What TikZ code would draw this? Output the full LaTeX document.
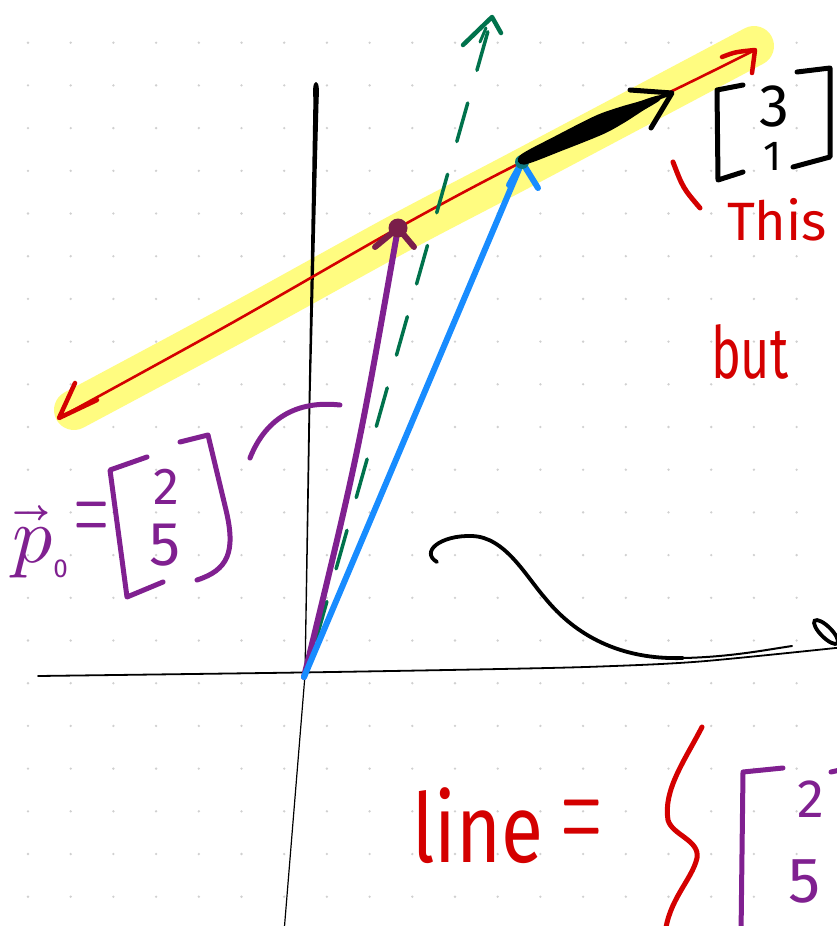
\documentclass[tikz,border=0pt]{standalone}
\usepackage{fontspec}
\usepackage{unicode-math}
\setmainfont{Fira Sans}
\setmathfont{Latin Modern Math}
\usepackage{graphicx}
\definecolor{hlyellow}{RGB}{255,252,128}
\definecolor{penred}{RGB}{212,0,0}
\definecolor{penpurple}{RGB}{128,32,144}
\definecolor{penmaroon}{RGB}{122,30,74}
\definecolor{penblue}{RGB}{24,140,255}
\definecolor{penteal}{RGB}{14,120,128}
\definecolor{pengreen}{RGB}{0,114,76}
\definecolor{dotgray}{RGB}{208,208,208}
\tikzset{
  pen/.style={line cap=round, line join=round},
  redpen/.style={pen, draw=penred, line width=4.5},
  purplepen/.style={pen, draw=penpurple, line width=5},
  blackpen/.style={pen, draw=black, line width=5},
  hand/.style={inner sep=0pt, outer sep=0pt},
}
\newcommand{\fsz}[1]{\fontsize{#1}{#1}\selectfont}
\begin{document}
\begin{tikzpicture}[x=1pt,y=-1pt]
\useasboundingbox (0,0) rectangle (837,926);
\clip (0,0) rectangle (837,926);
\fill[white] (0,0) rectangle (837,926);
% dot grid
\foreach \i in {0,...,19} \foreach \j in {1,...,21}
  \fill[dotgray] ({28+42.7*\i},{42.7*\j}) circle (1.3);
% key points
\coordinate (O) at (304,677);
\coordinate (P0) at (398,228);
\coordinate (Q) at (522,162);
\coordinate (T) at (672,93);
\coordinate (G) at (492,17);
\coordinate (Gs) at (316,640);
\coordinate (Lend) at (59,418);
\coordinate (Rend) at (755,50);
% highlighter band
\draw[hlyellow, line width=40, line cap=round, line join=round]
  plot[smooth] coordinates {(74,410) (240,321) (398,234) (520,170) (754,46)};
% axes
\fill[black] (316,82) .. controls (319.5,82) and (319,92) .. (318.6,100)
  -- (310.5,400) -- (305.6,675) -- (284.8,930) -- (283.6,930)
  -- (304.4,675) -- (308.6,400) -- (313.4,100)
  .. controls (313,92) and (312.5,82) .. (316,82) -- cycle;
\draw[black, line width=1.8, line cap=round]
  plot[smooth] coordinates {(38,676) (300,672.5) (500,669) (600,666.5) (700,661.5) (845,647)};
% red line with two arrowheads
\draw[penred, line width=2.6, line cap=round]
  plot[smooth] coordinates {(Lend) (230,324) (398,228) (520,163) (670,92) (Rend)};
\draw[redpen] (75,383) -- (Lend) -- (97,400);
\draw[redpen] (722,57) .. controls (735,52) .. (Rend) -- (752,73);
% green dashed vector
\draw[pengreen, line width=3.5, line cap=round, dash pattern=on 40 off 34] (Gs) -- (G);
\draw[pengreen, line width=4.5, pen] (463,45) -- (G) -- (501,33);
\draw[pengreen, line width=3, pen] (480,42) -- (486,28);
% purple vector
\draw[penpurple, line width=6, line cap=round] (O) .. controls (358,455) .. (P0);
\draw[penmaroon, line width=6, pen] (375,247) -- (P0) -- (414,247);
\fill[penmaroon] (P0) circle (9.5);
% blue vector
\draw[penblue, line width=6, line cap=round] (O) -- (Q);
\draw[penblue, line width=6, pen] (509,185) -- (Q) -- (538,188);
\fill[penteal] (Q) circle (7);
% black thick direction vector (tapered stroke)
\fill[black] plot[smooth cycle, tension=0.5] coordinates {
  (519.9,155.4) (555.1,136.2) (595.3,115.8) (618.9,107.3) (638.3,101.7) (657.7,95.7)
  (659.7,100.3) (642.5,110.9) (625.5,121.9) (603.5,134.0) (561.7,150.8) (524.1,164.6)};
\draw[black, line width=4, line cap=round] (652,100) -- (T);
\draw[blackpen] (630,90) -- (T) -- (651,128);
% [3;1]
\draw[blackpen] (743,85) -- (717,90) -- (718,180) -- (743,172);
\draw[blackpen] (797,72) -- (830,68) -- (830,157) -- (793,167);
\node[hand, anchor=base] (three) at (774,126) {\fsz{60}3};
\node[hand, anchor=base] (one) at (773,170) {\fsz{42}1};
% red tick and This
\draw[redpen, line width=5] (673,162) .. controls (683,188) .. (700,208);
\node[hand, anchor=base west, text=penred] (this) at (727,240) {\fsz{54}This};
\node[hand, anchor=base west, text=penred] (but) at (711,378) {\scalebox{0.7}[1]{\fsz{72}but}};
% p0 = [2;5]
\node[hand, anchor=base west, text=penpurple] (p0) at (12,562) {\fsz{80}$\vec{p}$\raisebox{-15pt}{\fsz{26}0}};
\node[hand, text=penpurple] (eqp) at (92,522) {\scalebox{1}[2.5]{\fsz{44}$=$}};
\draw[purplepen] (147,457) -- (110,470) -- (127,597) -- (163,582);
\draw[purplepen] (180,442) -- (208,435) -- (226,510) .. controls (236,552) and (228,570) .. (197,580);
\node[hand, text=penpurple] (two) at (166,487) {\fsz{52}2};
\node[hand, text=penpurple] (five) at (165,545) {\fsz{62}5};
\draw[purplepen] (250,458) .. controls (265,420) and (295,400) .. (340,405);
% black curve
\draw[black, line width=3.8, line cap=round] (437,562) .. controls (420,552) and (440,535) .. (472,536)
  .. controls (505,537) and (525,575) .. (545,598) .. controls (575,635) and (620,660) .. (683,658);
\draw[black, line width=2, line cap=round] (683,658) .. controls (730,657) and (765,650) .. (792,646);
\draw[black, line width=3.8, rotate around={-45:(826,632)}] (826,632) ellipse [x radius=16, y radius=5.5];
% line = { [2;5]
\node[hand, anchor=base west, text=penred] (line) at (412,862) {\scalebox{0.8}[1]{\fsz{96}line}};
\node[hand, text=penred] (eql) at (582,827) {\scalebox{1}[2.8]{\fsz{52}$=$}};
\draw[redpen, line width=5] (702,727) .. controls (685,760) and (663,790) .. (668,820)
  .. controls (672,835) and (700,840) .. (697,858) .. controls (692,880) and (668,900) .. (665,935);
\draw[purplepen] (783,768) -- (743,772) -- (741,935);
\node[hand, text=penpurple] (two2) at (811,799) {\fsz{54}2};
\node[hand, text=penpurple] (five2) at (805,881) {\fsz{64}5};
\draw[purplepen] (831,772) -- (840,770);
\end{tikzpicture}
\end{document}
